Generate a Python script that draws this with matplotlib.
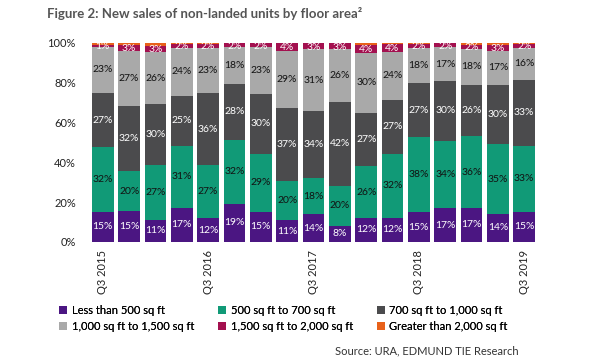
import matplotlib
matplotlib.use("Agg")
import matplotlib.pyplot as plt
import numpy as np

quarters = ["Q3 2015", "Q4 2015", "Q1 2016", "Q2 2016", "Q3 2016", "Q4 2016", "Q1 2017", "Q2 2017",
            "Q3 2017", "Q4 2017", "Q1 2018", "Q2 2018", "Q3 2018", "Q4 2018", "Q1 2019", "Q2 2019", "Q3 2019"]
tick_labels = ["Q3 2015", "Q3 2016", "Q3 2017", "Q3 2018", "Q3 2019"]

less_500 = [15, 15, 11, 17, 12, 19, 15, 11, 14, 8, 12, 12, 15, 17, 17, 14, 15]
s500_700 = [32, 20, 27, 31, 27, 32, 29, 20, 18, 20, 26, 32, 38, 34, 36, 35, 33]
s700_1000 = [27, 32, 30, 25, 36, 28, 30, 37, 34, 42, 27, 27, 27, 30, 26, 30, 33]
s1000_1500 = [23, 27, 26, 24, 23, 18, 23, 29, 31, 26, 30, 24, 18, 17, 18, 17, 16]
s1500_2000 = [1, 3, 3, 2, 2, 2, 2, 4, 3, 3, 4, 4, 2, 2, 2, 3, 2]
greater_2000 = [1, 1, 1.5, 0.5, 0.5, 0.3, 0.3, 0.3, 0.3, 0.3, 1, 0.5, 0.5, 0.3, 1, 1, 0.5]

series = [less_500, s500_700, s700_1000, s1000_1500, s1500_2000, greater_2000]
names = ["Less than 500 sq ft", "500 sq ft to 700 sq ft", "700 sq ft to 1,000 sq ft",
         "1,000 sq ft to 1,500 sq ft", "1,500 sq ft to 2,000 sq ft", "Greater than 2,000 sq ft"]
colors = ["#4b1682", "#119a77", "#4b4b4d", "#a9a9a9", "#a3104f", "#e8611a"]
label_colors = ["white", "#111111", "white", "#111111", "white", None]

plt.rcParams['font.family'] = ['Lato', 'DejaVu Sans']

fig = plt.figure(figsize=(6, 3.6), dpi=100)
ax = fig.add_axes([0.145, 0.328, 0.755, 0.553])

data = np.array(series, dtype=float)
totals = data.sum(axis=0)
norm = data / totals * 100
x = np.arange(len(quarters))
bottom = np.zeros(len(quarters))
handles = []
for i, (vals, raw) in enumerate(zip(norm, data)):
    h = ax.bar(x, vals, bottom=bottom, width=0.82, color=colors[i], label=names[i], linewidth=0)
    handles.append(h)
    if label_colors[i] is not None:
        for xi, v, b, r in zip(x, vals, bottom, raw):
            yc = b + v / 2
            if i == 4:
                yc = b + v / 2 - 0.3
            ax.text(xi, yc, f"{int(r)}%", ha="center", va="center", fontsize=7.5,
                    color=label_colors[i])
    bottom += vals

ax.set_xlim(-0.6, 16.6)
ax.set_ylim(0, 100)
ax.set_yticks([0, 20, 40, 60, 80, 100])
ax.set_yticklabels(["0%", "20%", "40%", "60%", "80%", "100%"], fontsize=8, color="#222222")
ax.set_xticks([0, 4, 8, 12, 16])
ax.set_xticklabels(tick_labels, rotation=90, fontsize=8, color="#222222")
ax.tick_params(axis="both", length=0)
ax.tick_params(axis="y", pad=8)
ax.tick_params(axis="x", pad=6)
for s in ax.spines.values():
    s.set_visible(False)

col_x = [0.099, 0.364, 0.628]
cols = [[0, 3], [1, 4], [2, 5]]
for cx, idx in zip(col_x, cols):
    lg = fig.legend([handles[k] for k in idx], [names[k] for k in idx],
                    loc="upper left", bbox_to_anchor=(cx, 0.154), frameon=False,
                    fontsize=8, handlelength=0.7, handleheight=0.7, handletextpad=0.4,
                    labelspacing=0.5, borderaxespad=0, borderpad=0)
    fig.add_artist(lg)

fig.text(0.078, 0.962, "Figure 2: New sales of non-landed units by floor area²", fontsize=9.5,
         fontweight="bold", color="#555555", ha="left", va="center")
fig.text(0.865, 0.025, "Source: URA, EDMUND TIE Research", fontsize=8, color="#333333",
         ha="right", va="center")

fig.savefig("out.png", dpi=100)
